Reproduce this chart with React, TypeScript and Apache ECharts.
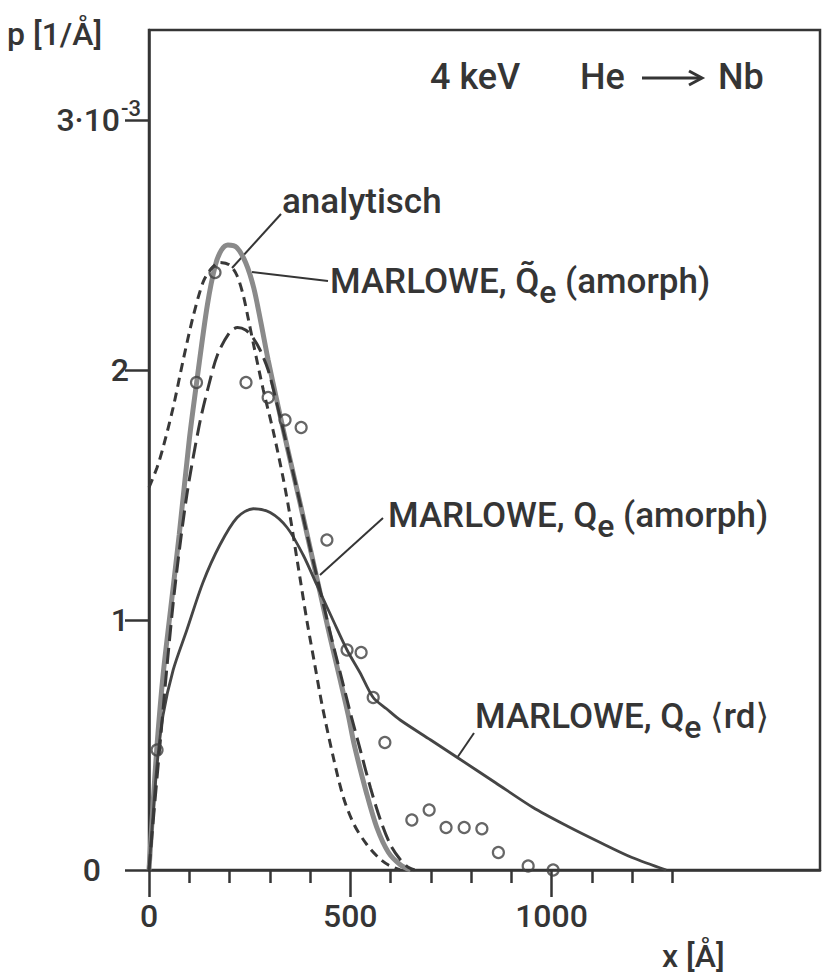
import React, { useEffect, useRef } from "react";
import * as echarts from "echarts";

// ---- axis ticks / labels ----
const xLabelValues = [0, 500, 1000];
const xMinorTickValues = [100, 200, 300, 400, 600, 700, 800, 900, 1100, 1200, 1300];
const yTickValues = [0, 1, 2, 3];

// ---- curves: [x in Å, p in 10^-3 1/Å] ----
const marloweQTildeAmorph: [number, number][] = [
  [0, 0], [10, 0.26], [20, 0.5], [35, 0.78], [52, 1.02], [75, 1.34], [100, 1.72],
  [120, 1.97], [145, 2.26], [165, 2.42], [180, 2.48], [196, 2.5], [218, 2.49],
  [240, 2.43], [260, 2.33], [278, 2.19], [296, 2.04], [320, 1.86], [345, 1.68],
  [375, 1.47], [400, 1.29], [425, 1.11], [450, 0.93], [475, 0.76], [495, 0.62],
  [510, 0.5], [540, 0.31], [566, 0.17], [595, 0.07], [625, 0.02], [650, 0],
];

const marloweQeAmorph: [number, number][] = [
  [0, 0], [15, 0.28], [30, 0.55], [45, 0.82], [65, 1.14], [94, 1.5], [125, 1.78],
  [147, 1.93], [170, 2.06], [200, 2.15], [220, 2.17], [240, 2.16], [258, 2.13],
  [276, 2.08], [296, 2.0], [320, 1.85], [345, 1.68], [375, 1.47], [400, 1.29],
  [425, 1.12], [450, 0.95], [475, 0.79], [500, 0.63], [525, 0.48], [550, 0.33],
  [575, 0.2], [600, 0.1], [625, 0.04], [645, 0.01], [660, 0],
];

const analytisch: [number, number][] = [
  [0, 1.53], [20, 1.61], [35, 1.69], [60, 1.85], [85, 2.04], [109, 2.21], [134, 2.35],
  [152, 2.4], [176, 2.43], [200, 2.42], [218, 2.38], [234, 2.3], [246, 2.21],
  [260, 2.1], [284, 1.92], [308, 1.76], [333, 1.57], [350, 1.42], [370, 1.22],
  [392, 1.0], [412, 0.82], [430, 0.66], [458, 0.45], [483, 0.29], [510, 0.18],
  [542, 0.1], [570, 0.05], [595, 0.02], [624, 0],
];

const marloweQeRd: [number, number][] = [
  [0, 0], [10, 0.22], [20, 0.42], [35, 0.62], [60, 0.8], [94, 0.96], [134, 1.15],
  [176, 1.3], [219, 1.41], [259, 1.445], [301, 1.43], [343, 1.37], [383, 1.26],
  [417, 1.14], [457, 1.0], [492, 0.88], [524, 0.79], [557, 0.69], [590, 0.645],
  [624, 0.6], [700, 0.52], [766, 0.45], [860, 0.35], [954, 0.25], [1040, 0.175],
  [1121, 0.11], [1200, 0.05], [1285, 0],
];

const measuredPoints: [number, number][] = [
  [20, 0.48], [118, 1.95], [164, 2.39], [241, 1.95], [296, 1.89], [338, 1.8],
  [378, 1.77], [442, 1.32], [492, 0.88], [527, 0.87], [557, 0.69], [586, 0.51],
  [653, 0.2], [696, 0.24], [738, 0.17], [783, 0.17], [827, 0.165], [868, 0.07],
  [942, 0.016], [1004, 0],
];

const FONT = "Roboto, 'DejaVu Sans', sans-serif";
const WEIGHT = 500;
const INK = "#353535";

export default function App() {
  const ref = useRef<HTMLDivElement>(null);

  useEffect(() => {
    const chart = echarts.init(ref.current!, null, { renderer: "svg" });

    const labelText = (x: number, y: number, text: string, rich: any, size = 35) => ({
      type: "text",
      x,
      y,
      silent: true,
      style: {
        text,
        fill: INK,
        fontFamily: FONT,
        fontWeight: WEIGHT,
        fontSize: size,
        textAlign: "left",
        textVerticalAlign: "middle",
        rich,
      },
    });

    const subRich = {
      m: { fontFamily: FONT, fontWeight: WEIGHT, fontSize: 35, color: INK },
      sub: { fontFamily: FONT, fontWeight: WEIGHT, fontSize: 32, color: INK, padding: [22, 0, 0, 0] },
    };

    chart.setOption({
      animation: false,
      backgroundColor: "#ffffff",
      grid: {
        left: 149,
        right: 3,
        top: 30,
        bottom: 104,
        show: true,
        borderColor: INK,
        borderWidth: 2.5,
        backgroundColor: "transparent",
      },
      xAxis: [
        {
          type: "value",
          min: 0,
          max: 1667,
          position: "bottom",
          axisLine: { show: true, onZero: false, lineStyle: { color: INK, width: 2.5 } },
          axisTick: {
            show: true,
            length: 27,
            customValues: xLabelValues,
            lineStyle: { color: INK, width: 2.5 },
          },
          axisLabel: {
            customValues: xLabelValues,
            formatter: (v: number) => String(v),
            fontFamily: FONT,
            fontWeight: WEIGHT,
            fontSize: 32,
            color: INK,
            margin: 30,
          },
          splitLine: { show: false },
        },
        {
          type: "value",
          min: 0,
          max: 1667,
          position: "bottom",
          axisLine: { show: false },
          axisTick: {
            show: true,
            length: 13,
            customValues: xMinorTickValues,
            lineStyle: { color: INK, width: 2.5 },
          },
          axisLabel: { show: false },
          splitLine: { show: false },
        },
      ],
      yAxis: {
        type: "value",
        min: 0,
        max: 3.36,
        axisLine: { show: true, onZero: false, lineStyle: { color: INK, width: 2.5 } },
        axisTick: {
          show: true,
          length: 24,
          customValues: yTickValues,
          lineStyle: { color: INK, width: 2.5 },
        },
        axisLabel: {
          customValues: yTickValues,
          margin: 8,
          formatter: (v: number) => {
            if (v === 3) return "{t|3·10}{sup|-3}";
            if (v === 0) return "{z|0}";
            return "{n|" + v + "}";
          },
          rich: {
            n: { fontFamily: FONT, fontWeight: WEIGHT, fontSize: 32, color: INK, padding: [0, 12, 0, 0] },
            z: { fontFamily: FONT, fontWeight: WEIGHT, fontSize: 32, color: INK, padding: [0, 40, 0, 0] },
            t: { fontFamily: FONT, fontWeight: WEIGHT, fontSize: 32, color: INK },
            sup: { fontFamily: FONT, fontWeight: WEIGHT, fontSize: 22, color: INK, padding: [0, 0, 24, 1] },
          },
        },
        splitLine: { show: false },
      },
      series: [
        {
          name: "MARLOWE, Q̃e (amorph)",
          type: "line",
          data: marloweQTildeAmorph,
          smooth: 0.3,
          showSymbol: false,
          symbol: "none",
          silent: true,
          lineStyle: { color: "#8a8a8a", width: 5 },
          z: 2,
        },
        {
          name: "MARLOWE, Qe <rd>",
          type: "line",
          data: marloweQeRd,
          smooth: 0.3,
          showSymbol: false,
          symbol: "none",
          silent: true,
          lineStyle: { color: "#454545", width: 2.8 },
          z: 3,
        },
        {
          name: "analytisch",
          type: "line",
          data: analytisch,
          smooth: 0.3,
          showSymbol: false,
          symbol: "none",
          silent: true,
          lineStyle: { color: "#383838", width: 3, type: [9, 6] },
          z: 4,
        },
        {
          name: "MARLOWE, Qe (amorph)",
          type: "line",
          data: marloweQeAmorph,
          smooth: 0.3,
          showSymbol: false,
          symbol: "none",
          silent: true,
          lineStyle: { color: "#383838", width: 3, type: [16, 7] },
          z: 4,
        },
        {
          name: "Messpunkte",
          type: "scatter",
          data: measuredPoints,
          symbol: "circle",
          symbolSize: 11,
          silent: true,
          itemStyle: { color: "rgba(255,255,255,0)", borderColor: "#404040", borderWidth: 2.2 },
          z: 5,
        },
      ],
      graphic: [
        // axis names
        labelText(7, 34, "p [1/Å]", undefined, 32),
        labelText(662, 956, "x [Å]", undefined, 32),
        // title
        labelText(430, 77, "4 keV", undefined, 36),
        labelText(580, 77, "He", undefined, 36),
        labelText(718, 77, "Nb", undefined, 36),
        {
          type: "line",
          silent: true,
          shape: { x1: 642, y1: 78, x2: 700, y2: 78 },
          style: { stroke: INK, lineWidth: 3 },
        },
        {
          type: "polyline",
          silent: true,
          shape: { points: [[689, 71], [702, 78], [689, 85]] },
          style: { stroke: INK, lineWidth: 3, fill: "none" },
        },
        // curve labels
        labelText(282, 201, "analytisch", undefined, 35),
        labelText(330, 281, "{m|MARLOWE, Q\u0303}{sub|e}{m| (amorph)}", subRich),
        labelText(388, 515, "{m|MARLOWE, Q}{sub|e}{m| (amorph)}", subRich),
        labelText(475, 716, "{m|MARLOWE, Q}{sub|e}{m| ⟨rd⟩}", subRich),
        // leader lines
        {
          type: "line",
          silent: true,
          shape: { x1: 281, y1: 214, x2: 232, y2: 268 },
          style: { stroke: INK, lineWidth: 2 },
        },
        {
          type: "line",
          silent: true,
          shape: { x1: 328, y1: 281, x2: 252, y2: 272 },
          style: { stroke: INK, lineWidth: 2 },
        },
        {
          type: "line",
          silent: true,
          shape: { x1: 383, y1: 518, x2: 320, y2: 575 },
          style: { stroke: INK, lineWidth: 2 },
        },
        {
          type: "line",
          silent: true,
          shape: { x1: 474, y1: 733, x2: 457, y2: 758 },
          style: { stroke: INK, lineWidth: 2 },
        },
      ],
    });

    return () => chart.dispose();
  }, []);

  return (
    <div
      ref={ref}
      style={{ position: "fixed", left: 0, top: 0, width: 823, height: 974, background: "#fff" }}
    />
  );
}
